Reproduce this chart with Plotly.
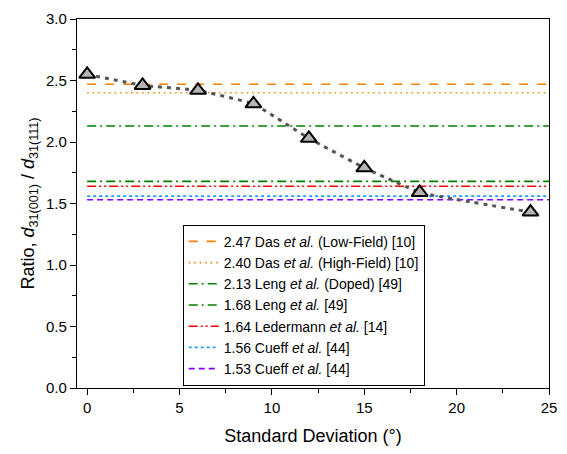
import plotly.graph_objects as go

# Simulated ratio vs. standard deviation of grain orientation
std_dev = [0, 3, 6, 9, 12, 15, 18, 24]
ratio = [2.55, 2.46, 2.42, 2.31, 2.03, 1.79, 1.59, 1.43]

# Literature reference values
ref_values = [2.47, 2.40, 2.13, 1.68, 1.64, 1.56, 1.53]
ref_labels = [
    "2.47 Das <i>et al.</i> (Low-Field) [10]",
    "2.40 Das <i>et al.</i> (High-Field) [10]",
    "2.13 Leng <i>et al.</i> (Doped) [49]",
    "1.68 Leng <i>et al.</i> [49]",
    "1.64 Ledermann <i>et al.</i> [14]",
    "1.56 Cueff <i>et al.</i> [44]",
    "1.53 Cueff <i>et al.</i> [44]",
]
ref_colors = ["#FF8000", "#FF8000", "#008000", "#008000", "#FF0000", "#1E9FFF", "#8000FF"]
ref_dashes = ["9px,9px", "1.5px,4px", "9px,4px,2px,4px", "9px,4px,2px,4px",
              "9px,3px,2px,3px,2px,3px", "3px,3px", "6px,4px"]
ref_x = [0, 25]

fig = go.Figure()

for v, lab, col, dsh in zip(ref_values, ref_labels, ref_colors, ref_dashes):
    fig.add_trace(go.Scatter(
        x=ref_x, y=[v, v], mode="lines", name=lab,
        line=dict(color=col, width=1.6, dash=dsh),
    ))

fig.add_trace(go.Scatter(
    x=std_dev, y=ratio, mode="lines+markers", showlegend=False,
    line=dict(color="#555555", width=3, dash="4px,5px", shape="spline", smoothing=0.25),
    marker=dict(symbol="triangle-up", size=14, color="#B4B4B4",
                line=dict(color="black", width=2)),
))

axis_common = dict(
    showline=True, linecolor="black", linewidth=1.2, mirror=True,
    ticks="outside", ticklen=6, tickcolor="black", tickwidth=1,
    showgrid=False, zeroline=False,
    tickfont=dict(family="Arial, Liberation Sans", size=15, color="black"),
)

fig.update_layout(
    width=567, height=454,
    margin=dict(l=77, r=15, t=10, b=66),
    plot_bgcolor="white", paper_bgcolor="white",
    font=dict(family="Arial, Liberation Sans", color="black"),
    xaxis=dict(axis_common, range=[-0.55, 25], tickvals=[0, 5, 10, 15, 20, 25],
               minor=dict(ticks="outside", ticklen=4, tickcolor="black", dtick=2.5, tick0=0),
               title=dict(text="Standard Deviation (°)", font=dict(size=18), standoff=14)),
    yaxis=dict(axis_common, range=[0, 3.0], dtick=0.5, tickformat=".1f",
               minor=dict(ticks="outside", ticklen=4, tickcolor="black", dtick=0.25, tick0=0),
               title=dict(text="Ratio, <i>d</i><sub>31(001)</sub> / <i>d</i><sub>31(111)</sub>",
                          font=dict(size=18), standoff=6)),
    legend=dict(x=0.224, y=0.006, xanchor="left", yanchor="bottom",
                bordercolor="black", borderwidth=1, bgcolor="white",
                font=dict(size=14), tracegroupgap=0, itemwidth=30),
)

fig.write_html("out.html")
